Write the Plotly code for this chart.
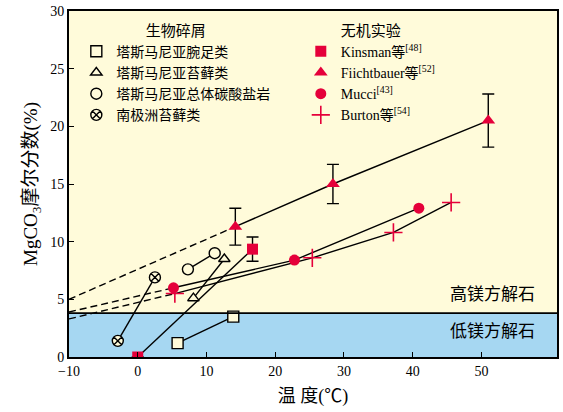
import plotly.graph_objects as go

# ---- data (temperature in °C, MgCO3 mole fraction in %) ----
# biogenic debris
brach_t = [5.8, 13.9]
brach_mg = [1.2, 3.5]
bryo_t = [8.1, 12.6]
bryo_mg = [5.1, 8.5]
bulk_t = [7.3, 11.2]
bulk_mg = [7.6, 9.0]
antarc_t = [-2.9, 2.5]
antarc_mg = [1.4, 6.9]

# inorganic experiments
kins_t = [0.0, 16.7]
kins_mg = [0.0, 9.35]
kins_err = [0.0, 1.05]
ficht_t = [14.2, 28.4, 51.0]
ficht_mg = [11.3, 15.0, 20.5]
ficht_err = [1.6, 1.7, 2.3]
mucci_t = [5.2, 22.8, 40.9]
mucci_mg = [6.0, 8.4, 12.9]
burton_t = [5.4, 25.4, 37.2, 45.6]
burton_mg = [5.5, 8.6, 10.8, 13.4]

# extrapolated values at -10 °C (dashed extensions)
extrap_t = -10
ficht_extrap = 5.0
mucci_extrap = 3.9
burton_extrap = 3.3

low_mg_limit = 3.8
x_range = [-10, 61]
y_range = [0, 30]
x_ticks = [-10, 0, 10, 20, 30, 40, 50]
y_ticks = [0, 5, 10, 15, 20, 25, 30]

RED = "#E5003A"
FONT = "Liberation Serif, Noto Sans CJK SC, serif"
LW = 1.4

fig = go.Figure()


def line(x, y, dash="solid"):
    fig.add_trace(go.Scatter(x=x, y=y, mode="lines", showlegend=False,
                             line=dict(color="black", width=LW, dash=dash),
                             hoverinfo="skip"))


# connecting lines
line(brach_t, brach_mg)
line(bryo_t, bryo_mg)
line(bulk_t, bulk_mg)
line(antarc_t, antarc_mg)
line(kins_t, kins_mg)
line(ficht_t, ficht_mg)
line(mucci_t, mucci_mg)
line(burton_t, burton_mg)
line([extrap_t, ficht_t[0]], [ficht_extrap, ficht_mg[0]], dash="7px,4px")
line([extrap_t, mucci_t[0]], [mucci_extrap, mucci_mg[0]], dash="7px,4px")
line([extrap_t, burton_t[0]], [burton_extrap, burton_mg[0]], dash="7px,4px")

open_style = dict(color="#FFFBDA", line=dict(color="black", width=1.4))

# biogenic markers (legend 1)
fig.add_trace(go.Scatter(x=brach_t, y=brach_mg, mode="markers", name="塔斯马尼亚腕足类",
                         marker=dict(symbol="square", size=11, **open_style), legend="legend"))
fig.add_trace(go.Scatter(x=bryo_t, y=bryo_mg, mode="markers", name="塔斯马尼亚苔藓类",
                         marker=dict(symbol="triangle-up", size=10, **open_style), legend="legend"))
fig.add_trace(go.Scatter(x=bulk_t, y=bulk_mg, mode="markers", name="塔斯马尼亚总体碳酸盐岩",
                         marker=dict(symbol="circle", size=11, **open_style), legend="legend"))
fig.add_trace(go.Scatter(x=antarc_t, y=antarc_mg, mode="markers", name="南极洲苔藓类",
                         marker=dict(symbol="circle-x", size=11, **open_style), legend="legend"))

# inorganic markers (legend 2)
err_style = dict(type="data", visible=True, color="black", thickness=1.4, width=6)
fig.add_trace(go.Scatter(x=kins_t, y=kins_mg, mode="markers", name="Kinsman等<sup>[48]</sup>",
                         marker=dict(symbol="square", size=11, color=RED),
                         error_y=dict(array=kins_err, **err_style), legend="legend2"))
fig.add_trace(go.Scatter(x=ficht_t, y=ficht_mg, mode="markers", name="Fiichtbauer等<sup>[52]</sup>",
                         marker=dict(symbol="triangle-up", size=12, color=RED),
                         error_y=dict(array=ficht_err, **err_style), legend="legend2"))
fig.add_trace(go.Scatter(x=mucci_t, y=mucci_mg, mode="markers", name="Mucci<sup>[43]</sup>",
                         marker=dict(symbol="circle", size=11, color=RED), legend="legend2"))
fig.add_trace(go.Scatter(x=burton_t, y=burton_mg, mode="markers", name="Burton等<sup>[54]</sup>",
                         marker=dict(symbol="cross-thin", size=13, line=dict(color=RED, width=1.6)),
                         legend="legend2"))

# low-Mg calcite band
fig.add_shape(type="rect", xref="paper", yref="y", x0=0, x1=1, y0=y_range[0], y1=low_mg_limit,
              fillcolor="#A6D7F2", line=dict(width=0), layer="below")
fig.add_shape(type="line", xref="paper", yref="y", x0=0, x1=1, y0=low_mg_limit, y1=low_mg_limit,
              line=dict(color="black", width=1.8), layer="above")

fig.add_annotation(x=0.96, y=low_mg_limit, xref="paper", yref="y", text="高镁方解石",
                   showarrow=False, xanchor="right", yanchor="bottom", yshift=7,
                   font=dict(size=17, family=FONT, color="black"))
fig.add_annotation(x=0.96, y=low_mg_limit, xref="paper", yref="y", text="低镁方解石",
                   showarrow=False, xanchor="right", yanchor="top", yshift=-7,
                   font=dict(size=17, family=FONT, color="black"))

legend_common = dict(bgcolor="rgba(0,0,0,0)", borderwidth=0, yanchor="top", xanchor="left",
                     font=dict(size=14, family=FONT, color="black"), tracegroupgap=0,
                     itemwidth=30)
fig.update_layout(
    width=563, height=412,
    margin=dict(l=69, r=4, t=10, b=55),
    paper_bgcolor="white",
    plot_bgcolor="#FFFBDA",
    font=dict(family=FONT, color="black", size=14),
    legend=dict(x=0.015, y=0.985, title=dict(text="生物碎屑", side="top center",
                                            font=dict(size=15, family=FONT)), **legend_common),
    legend2=dict(x=0.475, y=0.985, title=dict(text="无机实验", side="top center",
                                             font=dict(size=15, family=FONT)), **legend_common),
    xaxis=dict(range=x_range, tickvals=x_ticks, ticktext=["−10"] + [str(v) for v in x_ticks[1:]],
               ticks="inside", ticklen=5, tickwidth=1.4, tickcolor="black",
               showline=True, linecolor="black", linewidth=1.8, mirror=True,
               showgrid=False, zeroline=False, tickfont=dict(size=14, family=FONT),
               title=dict(text="温 度(℃)", font=dict(size=18, family=FONT), standoff=12)),
    yaxis=dict(range=y_range, tickvals=y_ticks,
               ticks="inside", ticklen=5, tickwidth=1.4, tickcolor="black",
               showline=True, linecolor="black", linewidth=1.8, mirror=True,
               showgrid=False, zeroline=False, tickfont=dict(size=14, family=FONT),
               title=dict(text="MgCO<sub>3</sub>摩尔分数(%)", font=dict(size=19, family=FONT),
                          standoff=8)),
)

fig.write_html("out.html")
